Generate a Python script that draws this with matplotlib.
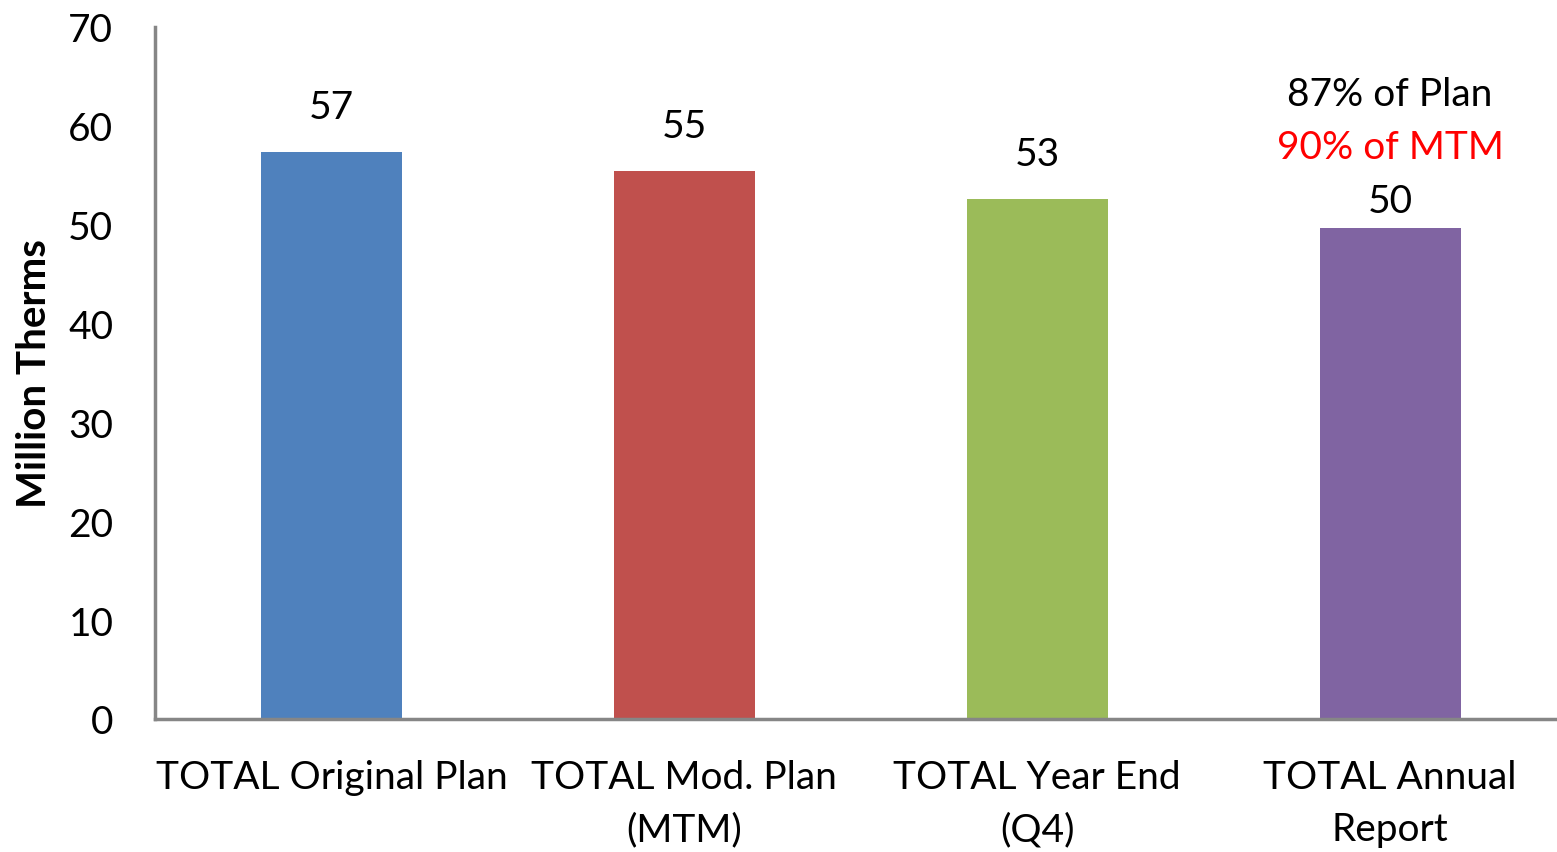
import matplotlib
matplotlib.use("Agg")
import matplotlib.pyplot as plt

categories = ["TOTAL Original Plan", "TOTAL Mod. Plan\n(MTM)", "TOTAL Year End\n(Q4)", "TOTAL Annual\nReport"]
values = [57.4, 55.4, 52.6, 49.7]
value_labels = ["57", "55", "53", "50"]
colors = ["#4F81BD", "#C0504D", "#9BBB59", "#8064A2"]
extra_lines = ["87% of Plan", "90% of MTM"]
extra_colors = ["#000000", "#FF0000"]
yticks = [0, 10, 20, 30, 40, 50, 60, 70]

plt.rcParams['font.family'] = ['Lato', 'DejaVu Sans']

W, H = 1557, 853
fig = plt.figure(figsize=(W / 100, H / 100), dpi=100)
ax = fig.add_axes([155 / W, (H - 720) / H, (W - 155) / W, (720 - 28) / H])

x = list(range(len(categories)))
ax.bar(x, values, width=0.4, color=colors, zorder=2)
ax.set_xlim(-0.5, 3.473)
ax.set_ylim(0, 70)
ax.set_yticks(yticks)
ax.set_yticklabels([str(t) for t in yticks], fontsize=28)
ax.set_xticks(x)
ax.set_xticklabels(categories, fontsize=28, linespacing=1.55)
ax.tick_params(axis='both', length=0)
ax.tick_params(axis='y', pad=30)
ax.tick_params(axis='x', pad=29)

for s in ['top', 'right']:
    ax.spines[s].set_visible(False)
for s in ['left', 'bottom']:
    ax.spines[s].set_color('#868686')
    ax.spines[s].set_linewidth(2.5)

ax.set_ylabel("Million Therms", fontsize=29, fontweight='bold', labelpad=11)

for i, (v, lab) in enumerate(zip(values, value_labels)):
    off = 45 if i < 3 else 27
    ax.annotate(lab, (i, v), xytext=(0, off * 0.72), textcoords='offset points',
                ha='center', va='center', fontsize=28)

v4 = values[3]
for j, (txt, c) in enumerate(zip(extra_lines, extra_colors)):
    off = [134, 81][j]
    ax.annotate(txt, (3, v4), xytext=(0, off * 0.72), textcoords='offset points',
                ha='center', va='center', fontsize=28, color=c)

fig.savefig("out.png", dpi=100)
